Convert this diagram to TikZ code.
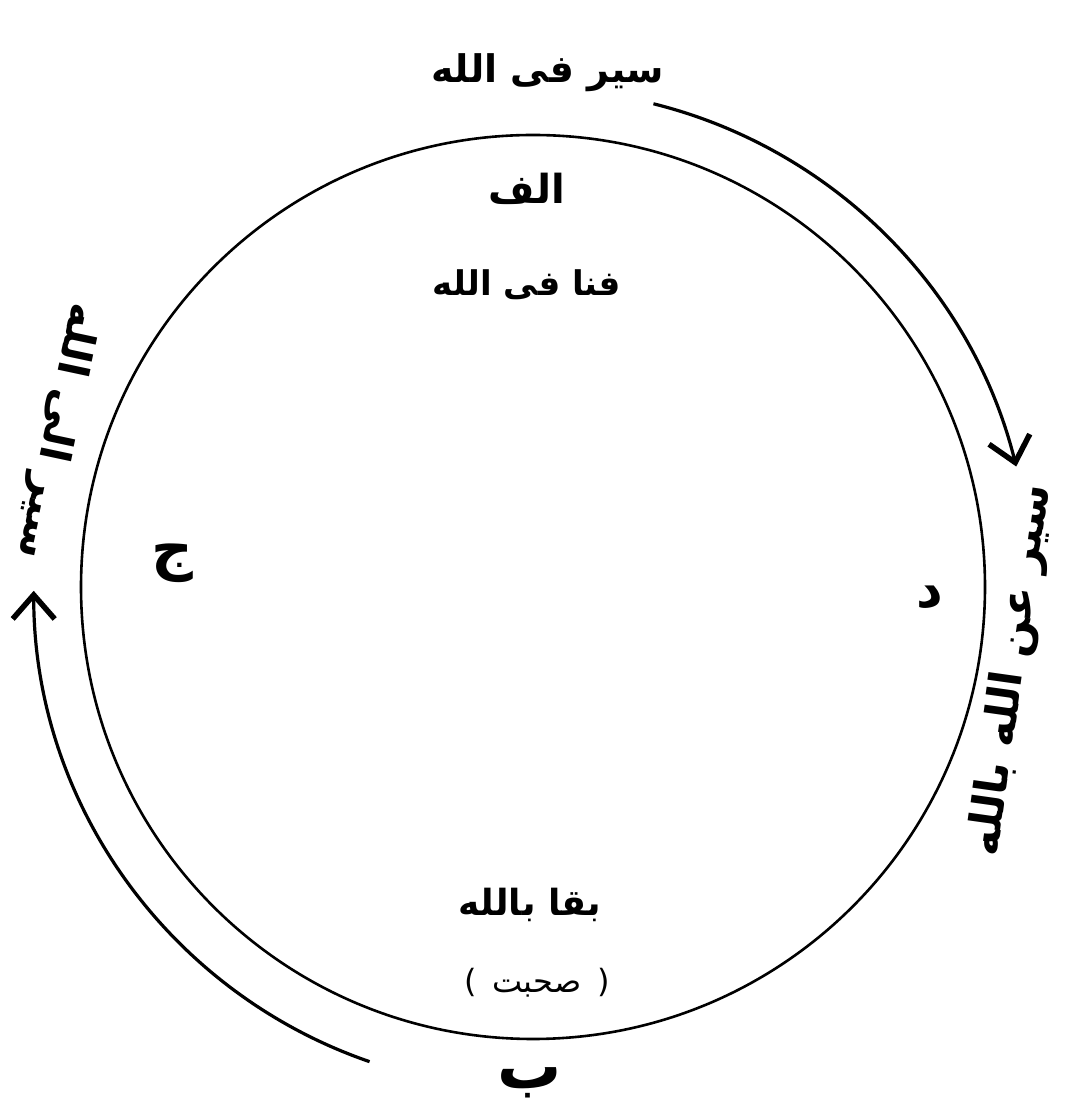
\documentclass[tikz,border=0pt]{standalone}
\usepackage{fontspec}
\usetikzlibrary{arrows.meta}
\TeXXeTstate=1
\newfontfamily\ur[Script=Arabic]{DejaVu Sans}
\newfontfamily\urp{DejaVu Sans}
\tikzset{
  ring/.style={line width=2.6pt},
  flow/.style={line width=3.2pt,-{Straight Barb[length=24pt,width=42pt,line width=5.5pt]}},
  lbl/.style={inner sep=0pt},
}
\newcommand{\RL}[1]{\beginR #1\endR}
\begin{document}
\begin{tikzpicture}[x=1pt,y=1pt]
\useasboundingbox (0,0) rectangle (1066,1103);
\fill[white] (0,0) rectangle (1066,1103);
\coordinate (O) at (533,516);
\draw[ring] (O) circle[radius=452];
% arrows
\draw[flow] ([shift={(76:498)}]O) arc[start angle=76,end angle=14,radius=498];
\draw[flow] ([shift={(251:502)}]O) arc[start angle=251,end angle=180,radius=498];
% labels
\node[lbl,font=\ur\bfseries\fontsize{38}{44}\selectfont] (t1) at (548,1030) {\RL{سیر فی الله}};
\node[lbl,font=\ur\bfseries\fontsize{40}{46}\selectfont] (t2) at (527,914) {\RL{الف}};
\node[lbl,font=\ur\bfseries\fontsize{34}{40}\selectfont] (t3) at (527,818) {\RL{فنا فی الله}};
\node[lbl,font=\ur\bfseries\fontsize{58}{64}\selectfont] (t4) at (172,540) {\RL{ج}};
\node[lbl,font=\ur\bfseries\fontsize{52}{58}\selectfont] (t5) at (930,506) {\RL{د}};
\node[lbl,font=\ur\bfseries\fontsize{44}{50}\selectfont,rotate=82] (t6) at (1012,433) {\RL{سیر عن الله بالله}};
\node[lbl,font=\ur\bfseries\fontsize{42}{48}\selectfont,rotate=-102] (t7) at (56,672) {\RL{سیر الی الله}};
\node[lbl,font=\ur\bfseries\fontsize{36}{42}\selectfont] (t8) at (530,198) {\RL{بقا بالله}};
\node[lbl,font=\ur\fontsize{32}{38}\selectfont] (t9) at (537,120) {{\urp(}\hspace{16pt}\RL{صحبت}\hspace{16pt}{\urp)}};
\node[lbl,font=\ur\bfseries\fontsize{64}{70}\selectfont] (t10) at (530,20) {\RL{ب}};
\end{tikzpicture}
\end{document}
